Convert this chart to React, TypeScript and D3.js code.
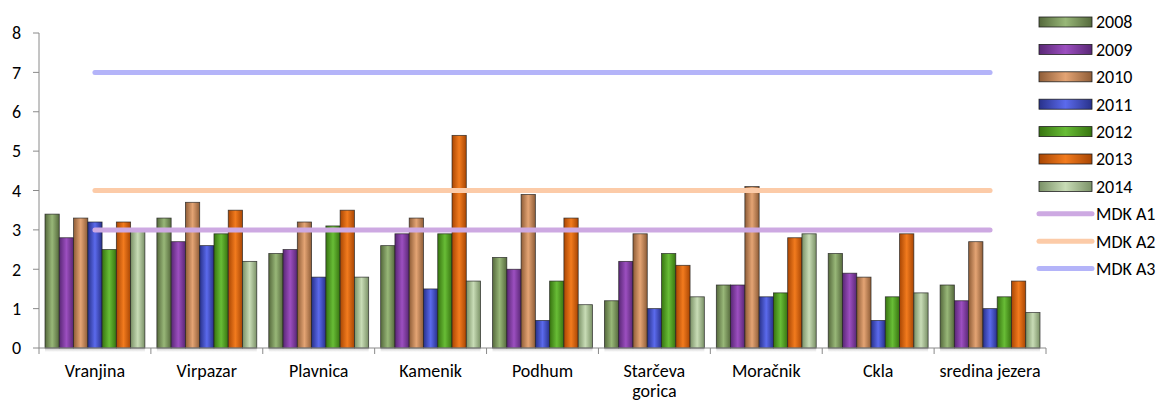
import * as d3 from 'd3';
import React from 'react';

const categories = [
  'Vranjina',
  'Virpazar',
  'Plavnica',
  'Kamenik',
  'Podhum',
  'Starčeva gorica',
  'Moračnik',
  'Ckla',
  'sredina jezera',
];

const years = ['2008', '2009', '2010', '2011', '2012', '2013', '2014'];

// one row per year, one value per site
const values2008 = [3.4, 3.3, 2.4, 2.6, 2.3, 1.2, 1.6, 2.4, 1.6];
const values2009 = [2.8, 2.7, 2.5, 2.9, 2.0, 2.2, 1.6, 1.9, 1.2];
const values2010 = [3.3, 3.7, 3.2, 3.3, 3.9, 2.9, 4.1, 1.8, 2.7];
const values2011 = [3.2, 2.6, 1.8, 1.5, 0.7, 1.0, 1.3, 0.7, 1.0];
const values2012 = [2.5, 2.9, 3.1, 2.9, 1.7, 2.4, 1.4, 1.3, 1.3];
const values2013 = [3.2, 3.5, 3.5, 5.4, 3.3, 2.1, 2.8, 2.9, 1.7];
const values2014 = [3.0, 2.2, 1.8, 1.7, 1.1, 1.3, 2.9, 1.4, 0.9];

const limitNames = ['MDK A1', 'MDK A2', 'MDK A3'];
const limitValues = [3, 4, 7];

const yTicks = [0, 1, 2, 3, 4, 5, 6, 7, 8];

const seriesValues = [
  values2008,
  values2009,
  values2010,
  values2011,
  values2012,
  values2013,
  values2014,
];

// [edge, center] colours for the bar gradients
const barColors = [
  ['#55693c', '#98b778'],
  ['#592775', '#9c4fc0'],
  ['#8f5d37', '#e4a474'],
  ['#28318a', '#5b6aec'],
  ['#377410', '#68bd36'],
  ['#a94603', '#f27b1e'],
  ['#7a9166', '#c8dcb6'],
];
const lineColors = ['#cda9e2', '#fccba8', '#b4b4f9'];

const W = 1157;
const H = 403;
const left = 39;
const right = 1046;
const top = 33;
const bottom = 348;

const App = () => {
  const x = d3.scaleBand<string>().domain(categories).range([left, right]);
  const inner = d3
    .scaleBand<string>()
    .domain(years)
    .range([0, x.bandwidth()])
    .paddingOuter(0.42);
  const y = d3.scaleLinear().domain([0, 8]).range([bottom, top]);

  const lineX0 = (x(categories[0]) ?? 0) + x.bandwidth() / 2;
  const lineX1 = (x(categories[categories.length - 1]) ?? 0) + x.bandwidth() / 2;

  const font = "Carlito, 'Open Sans', 'Noto Sans', sans-serif";

  return (
    <svg
      width={W}
      height={H}
      style={{ position: 'absolute', left: 0, top: 0, background: '#fff' }}
      fontFamily={font}
    >
      <defs>
        {barColors.map((c, i) => (
          <linearGradient key={i} id={`bar${i}`} x1="0" x2="1" y1="0" y2="0">
            <stop offset="0%" stopColor={c[0]} />
            <stop offset="50%" stopColor={c[1]} />
            <stop offset="100%" stopColor={c[0]} />
          </linearGradient>
        ))}
        <linearGradient id="shadow" x1="0" x2="0" y1="0" y2="1">
          <stop offset="0%" stopColor="#999" stopOpacity={0.5} />
          <stop offset="100%" stopColor="#999" stopOpacity={0} />
        </linearGradient>
      </defs>

      {/* bottom shadows under each group */}
      {categories.map((c) => (
        <rect
          key={c}
          x={(x(c) ?? 0) + (inner(years[0]) ?? 0)}
          y={bottom}
          width={inner.bandwidth() * years.length}
          height={4}
          fill="url(#shadow)"
        />
      ))}

      {/* bars */}
      {seriesValues.map((vals, si) =>
        vals.map((v, ci) => (
          <rect
            key={`${si}-${ci}`}
            x={(x(categories[ci]) ?? 0) + (inner(years[si]) ?? 0)}
            y={y(v)}
            width={inner.bandwidth()}
            height={bottom - y(v)}
            fill={`url(#bar${si})`}
            stroke="#1e1e1e"
            strokeWidth={0.8}
            strokeOpacity={0.8}
          />
        ))
      )}

      {/* limit lines */}
      {limitValues.map((v, i) => (
        <line
          key={limitNames[i]}
          x1={lineX0}
          x2={lineX1}
          y1={y(v)}
          y2={y(v)}
          stroke={lineColors[i]}
          strokeWidth={5}
          strokeLinecap="round"
        />
      ))}

      {/* y axis */}
      <line x1={left} x2={left} y1={top} y2={bottom} stroke="#8a8a8a" strokeWidth={1} />
      {yTicks.map((t) => (
        <g key={t}>
          <line x1={left - 6} x2={left} y1={y(t)} y2={y(t)} stroke="#8a8a8a" />
          <text
            x={left - 18}
            y={y(t)}
            dy="0.35em"
            textAnchor="end"
            fontSize={18}
            fill="#000"
          >
            {t}
          </text>
        </g>
      ))}

      {/* x axis */}
      <line x1={left} x2={right} y1={bottom} y2={bottom} stroke="#8a8a8a" strokeWidth={1} />
      {categories.map((c) => (
        <line
          key={`t${c}`}
          x1={x(c) ?? 0}
          x2={x(c) ?? 0}
          y1={bottom}
          y2={bottom + 6}
          stroke="#8a8a8a"
        />
      ))}
      <line x1={right} x2={right} y1={bottom} y2={bottom + 6} stroke="#8a8a8a" />
      {categories.map((c) => {
        const cx = (x(c) ?? 0) + x.bandwidth() / 2;
        const words = c === 'Starčeva gorica' ? ['Starčeva', 'gorica'] : [c];
        return (
          <text key={`l${c}`} x={cx} y={377} textAnchor="middle" fontSize={18} fill="#000">
            {words.map((w, wi) => (
              <tspan key={w} x={cx} dy={wi === 0 ? 0 : 20}>
                {w}
              </tspan>
            ))}
          </text>
        );
      })}

      {/* legend */}
      {years.map((yr, i) => {
        const cy = 22 + i * 27.4;
        return (
          <g key={yr}>
            <rect
              x={1039}
              y={cy - 5}
              width={53}
              height={10}
              fill={`url(#bar${i})`}
              stroke="#1e1e1e"
              strokeWidth={0.8}
            />
            <text x={1096} y={cy} dy="0.35em" fontSize={18} fill="#000">
              {yr}
            </text>
          </g>
        );
      })}
      {limitNames.map((n, i) => {
        const cy = 22 + (years.length + i) * 27.4;
        return (
          <g key={n}>
            <line
              x1={1039}
              x2={1092}
              y1={cy}
              y2={cy}
              stroke={lineColors[i]}
              strokeWidth={5}
              strokeLinecap="round"
            />
            <text x={1096} y={cy} dy="0.35em" fontSize={18} fill="#000">
              {n}
            </text>
          </g>
        );
      })}
    </svg>
  );
};

export default App;
